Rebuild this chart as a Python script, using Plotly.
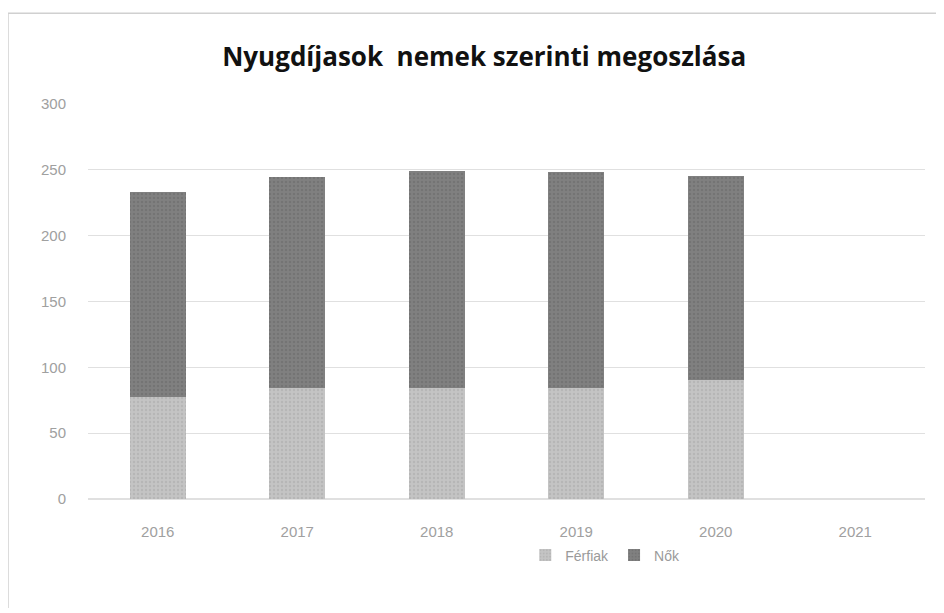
import plotly.graph_objects as go

years = ["2016", "2017", "2018", "2019", "2020", "2021"]
ferfiak = [77.5, 84, 84, 84, 90.5, None]
nok = [155.5, 160.5, 165, 164, 154.5, None]
tick_vals = [0, 50, 100, 150, 200, 250, 300]

fig = go.Figure()
fig.add_trace(go.Bar(x=years, y=ferfiak, name="Férfiak", marker=dict(color="#bcbcbc", line=dict(width=0),
                     pattern=dict(shape=".", fgcolor="#a8a8a8", bgcolor="#c4c4c4", size=4, solidity=0.3))))
fig.add_trace(go.Bar(x=years, y=nok, name="Nők", marker=dict(color="#7a7a7a", line=dict(width=0),
                     pattern=dict(shape=".", fgcolor="#686868", bgcolor="#808080", size=4, solidity=0.3))))

fig.update_layout(
    barmode="stack",
    bargap=0.6,
    width=930, height=600,
    margin=dict(l=80, r=13, t=96, b=109),
    paper_bgcolor="white", plot_bgcolor="white",
    title=dict(text="<b>Nyugdíjasok  nemek szerinti megoszlása</b>", xref="container", x=0.512, xanchor="center",
               yref="container", y=1 - 49 / 600, yanchor="middle",
               font=dict(family="Open Sans", size=26, color="#111111")),
    font=dict(family="Liberation Sans", color="#9a9a9a", size=15),
    legend=dict(orientation="h", x=0.618, xanchor="center", y=-0.143, yanchor="middle",
                font=dict(size=14, color="#9a9a9a"), traceorder="normal", itemwidth=30),
    showlegend=True,
)
fig.update_yaxes(range=[0, 300], tickvals=tick_vals, showgrid=True, gridcolor="#e0e0e0",
                 zeroline=True, zerolinecolor="#e0e0e0", ticks="", ticklabelstandoff=21,
                 tickfont=dict(size=15, color="#a0a0a0"))
fig.update_xaxes(showgrid=False, showline=False, ticks="", tickfont=dict(size=15, color="#a0a0a0"),
                 ticklabelstandoff=22)
fig.add_shape(type="rect", xref="paper", yref="paper", x0=-0.0956, x1=1.018, y0=-0.3, y1=1.23,
              line=dict(color="#d0d0d0", width=1.5), layer="below")
fig.write_html("out.html")
